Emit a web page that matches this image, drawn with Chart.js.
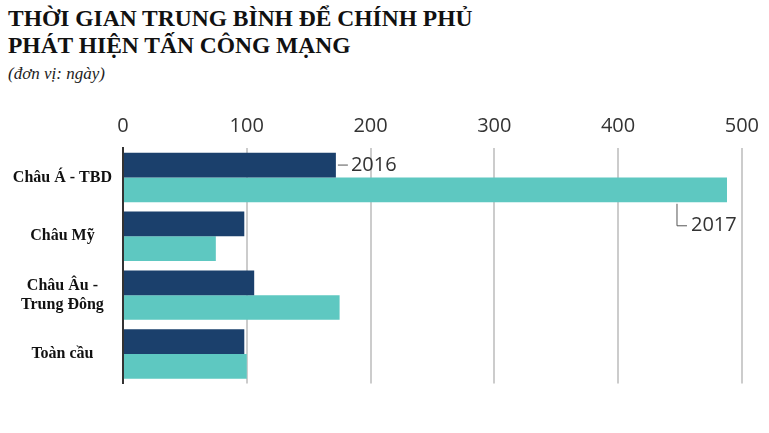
<!DOCTYPE html>
<html><head><meta charset="utf-8">
<script src="https://cdn.jsdelivr.net/npm/chart.js@4/dist/chart.umd.min.js"></script>
<style>
body{margin:0;background:#fff;width:769px;height:433px;overflow:hidden;position:relative}
#t{position:absolute;left:8px;top:5px;font:bold 23.5px "Liberation Serif",serif;line-height:27px;color:#111}
#u{position:absolute;left:8px;top:64px;font:italic 17px "Liberation Serif",serif;color:#222}
#w{position:absolute;left:0;top:104px;width:769px;height:292px}
</style></head><body>
<div id="t">THỜI GIAN TRUNG BÌNH ĐỂ CHÍNH PHỦ<br>PHÁT HIỆN TẤN CÔNG MẠNG</div>
<div id="u">(đơn vị: ngày)</div>
<div id="w"><canvas id="c"></canvas></div>
<script>
const regions = [['Châu Á - TBD'], ['Châu Mỹ'], ['Châu Âu -', 'Trung Đông'], ['Toàn cầu']];
const years = ['2016', '2017'];
const days2016 = [172, 98, 106, 98];
const days2017 = [488, 75, 175, 100];
const tickValues = [0, 100, 200, 300, 400, 500];

// labels for the first category's bars with leader lines
const yearTags = {
  id: 'yearTags',
  afterDatasetsDraw(chart) {
    const ctx = chart.ctx;
    const b1 = chart.getDatasetMeta(0).data[0];
    const b2 = chart.getDatasetMeta(1).data[0];
    ctx.save();
    ctx.strokeStyle = '#555'; ctx.lineWidth = 1;
    ctx.font = '20px "Open Sans", sans-serif'; ctx.fillStyle = '#333';
    ctx.textBaseline = 'middle';
    ctx.beginPath(); ctx.moveTo(b1.x + 2, b1.y); ctx.lineTo(b1.x + 12, b1.y); ctx.stroke();
    ctx.fillText(years[0], b1.x + 15, b1.y);
    const lx = b2.x - 50, ty = b2.y + 36;
    ctx.beginPath(); ctx.moveTo(lx, b2.y + 14); ctx.lineTo(lx, ty); ctx.lineTo(lx + 10, ty); ctx.stroke();
    ctx.fillText(years[1], lx + 14, ty);
    ctx.restore();
  }
};

new Chart(document.getElementById('c'), {
  type: 'bar',
  data: {
    labels: regions,
    datasets: [
      { label: years[0], data: days2016, backgroundColor: '#1b406c' },
      { label: years[1], data: days2017, backgroundColor: '#5ec8c1' }
    ]
  },
  options: {
    indexAxis: 'y',
    responsive: true, maintainAspectRatio: false, animation: false,
    layout: { padding: { right: 6, bottom: 0 } },
    datasets: { bar: { categoryPercentage: 0.84, barPercentage: 1 } },
    plugins: { legend: { display: false }, tooltip: { enabled: false } },
    scales: {
      x: {
        position: 'top', min: 0, max: 500,
        afterBuildTicks(s) { s.ticks = tickValues.map(v => ({ value: v })); },
        grid: { color: '#cccccc', lineWidth: 2, drawTicks: false },
        border: { display: false },
        ticks: { color: '#333', padding: 10, font: { family: 'Open Sans', size: 20 } }
      },
      y: {
        afterFit(s) { s.width = 123; },
        grid: { display: false },
        border: { color: '#333', width: 2 },
        ticks: { color: '#111', crossAlign: 'center', font: { family: 'Liberation Serif', size: 16, weight: 'bold' } }
      }
    }
  },
  plugins: [yearTags]
});
</script>
</body></html>
